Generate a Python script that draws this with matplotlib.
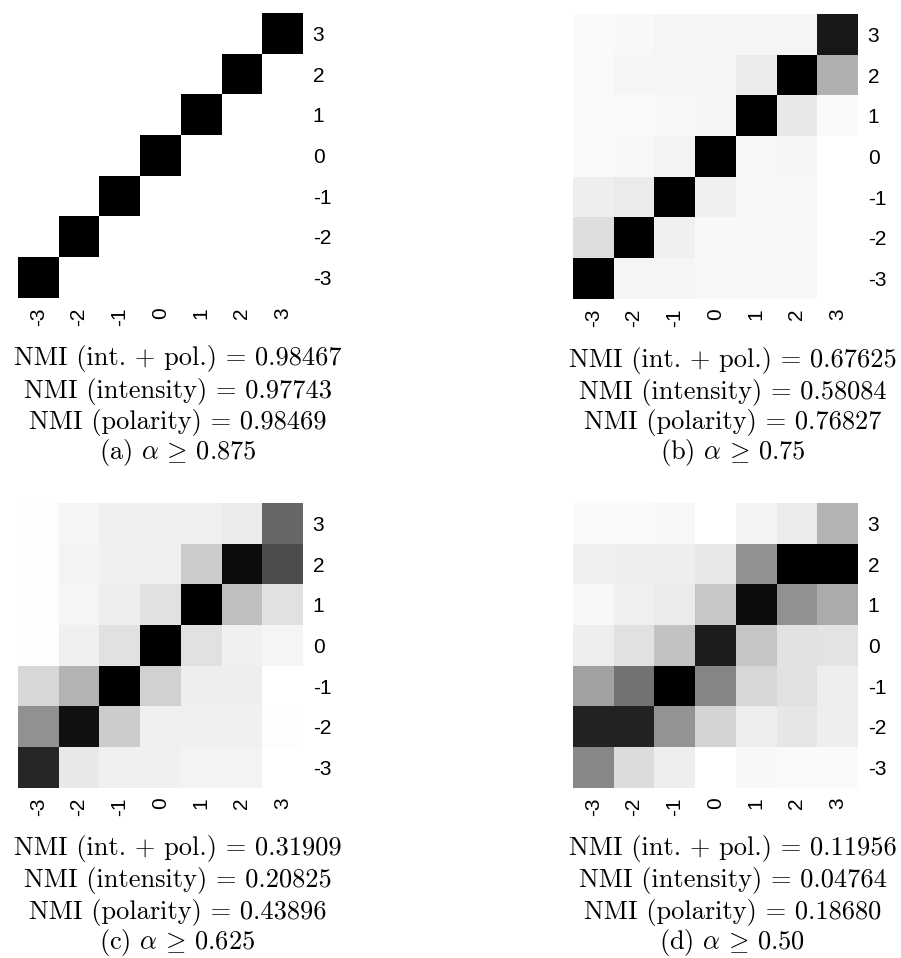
import numpy as np
import matplotlib
matplotlib.use("Agg")
import matplotlib.pyplot as plt

plt.rcParams['mathtext.fontset'] = 'cm'

levels = [-3, -2, -1, 0, 1, 2, 3]
tick_labels = ["-3", "-2", "-1", "0", "1", "2", "3"]

# darkness of each cell (0 = white, 1 = black); rows listed from 3 (top) to -3 (bottom)
mat_a = [
    [0, 0, 0, 0, 0, 0, 1.0],
    [0, 0, 0, 0, 0, 1.0, 0],
    [0, 0, 0, 0, 1.0, 0, 0],
    [0, 0, 0, 1.0, 0, 0, 0],
    [0, 0, 1.0, 0, 0, 0, 0],
    [0, 1.0, 0, 0, 0, 0, 0],
    [1.0, 0, 0, 0, 0, 0, 0],
]
mat_b = [
    [0.02, 0.03, 0.04, 0.04, 0.04, 0.04, 0.90],
    [0.02, 0.04, 0.04, 0.04, 0.08, 1.00, 0.31],
    [0.02, 0.02, 0.03, 0.04, 1.00, 0.09, 0.02],
    [0.02, 0.03, 0.05, 1.00, 0.03, 0.04, 0.00],
    [0.07, 0.08, 1.00, 0.06, 0.03, 0.03, 0.00],
    [0.13, 1.00, 0.06, 0.03, 0.03, 0.03, 0.00],
    [1.00, 0.04, 0.04, 0.03, 0.03, 0.03, 0.00],
]
mat_c = [
    [0.01, 0.04, 0.06, 0.06, 0.06, 0.08, 0.60],
    [0.01, 0.05, 0.06, 0.06, 0.20, 0.95, 0.70],
    [0.01, 0.04, 0.07, 0.12, 1.00, 0.25, 0.12],
    [0.01, 0.06, 0.12, 1.00, 0.12, 0.06, 0.04],
    [0.16, 0.30, 1.00, 0.18, 0.07, 0.07, 0.00],
    [0.43, 0.93, 0.20, 0.06, 0.06, 0.06, 0.01],
    [0.85, 0.09, 0.06, 0.06, 0.05, 0.05, 0.00],
]
mat_d = [
    [0.02, 0.02, 0.03, 0.00, 0.05, 0.08, 0.30],
    [0.06, 0.07, 0.07, 0.09, 0.43, 1.00, 1.00],
    [0.03, 0.06, 0.08, 0.22, 0.95, 0.43, 0.33],
    [0.07, 0.12, 0.24, 0.89, 0.23, 0.12, 0.11],
    [0.37, 0.55, 1.00, 0.48, 0.16, 0.12, 0.07],
    [0.86, 0.86, 0.42, 0.17, 0.07, 0.10, 0.07],
    [0.47, 0.14, 0.07, 0.00, 0.03, 0.02, 0.02],
]

nmi_joint = ["0.98467", "0.67625", "0.31909", "0.11956"]
nmi_intensity = ["0.97743", "0.58084", "0.20825", "0.04764"]
nmi_polarity = ["0.98469", "0.76827", "0.43896", "0.18680"]
captions = ["(a)", "(b)", "(c)", "(d)"]
alphas = ["0.875", "0.75", "0.625", "0.50"]

W, H = 901, 958
fig = plt.figure(figsize=(W / 100, H / 100), dpi=100)

# pixel layout of heat-map boxes (left, top)
boxes = [(18, 13), (573, 14), (18, 503), (573, 503)]
size = 285
mats = [mat_a, mat_b, mat_c, mat_d]

for i, (mat, (lx, ty)) in enumerate(zip(mats, boxes)):
    ax = fig.add_axes([lx / W, 1 - (ty + size) / H, size / W, size / H])
    ax.imshow(np.array(mat), cmap='gray_r', vmin=0, vmax=1, origin='upper',
              extent=(-3.5, 3.5, -3.5, 3.5), interpolation='nearest', aspect='auto')
    ax.set_xticks(levels)
    ax.set_yticks(levels)
    ax.set_xticklabels(tick_labels, rotation=90, fontsize=15, family='Liberation Sans')
    ax.set_yticklabels(tick_labels, fontsize=15, family='Liberation Sans')
    ax.yaxis.tick_right()
    ax.tick_params(length=0, pad=7)
    for s in ax.spines.values():
        s.set_visible(False)

    cx = (lx + 159.5) / W
    bottom = ty + size
    lines = [
        f"NMI (int. + pol.) = {nmi_joint[i]}",
        f"NMI (intensity) = {nmi_intensity[i]}",
        f"NMI (polarity) = {nmi_polarity[i]}",
        f"{captions[i]} $\\alpha\\,\\geq\\,{alphas[i]}$",
    ]
    offs = [61, 93, 124, 154]
    for txt, off in zip(lines, offs):
        fig.text(cx, 1 - (bottom + off) / H, txt, ha='center', va='center',
                 fontsize=19, family='cmr10')

fig.savefig("out.png", dpi=100)
